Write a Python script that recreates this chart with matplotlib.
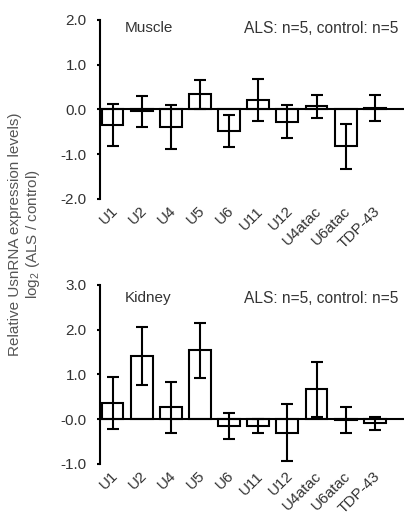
import matplotlib
matplotlib.use('Agg')
import matplotlib.pyplot as plt
import matplotlib.transforms as mtransforms
from matplotlib.ticker import FixedLocator, FixedFormatter

plt.rcParams['font.family'] = ['Liberation Sans', 'DejaVu Sans']
plt.rcParams['mathtext.fontset'] = 'custom'
plt.rcParams['mathtext.rm'] = 'Liberation Sans'
plt.rcParams['mathtext.it'] = 'Liberation Sans'

genes = ['U1', 'U2', 'U4', 'U5', 'U6', 'U11', 'U12', 'U4atac', 'U6atac', 'TDP-43']

muscle_mean = [-0.35, -0.04, -0.39, 0.34, -0.48, 0.22, -0.27, 0.07, -0.82, 0.04]
muscle_err = [0.47, 0.35, 0.50, 0.32, 0.36, 0.47, 0.36, 0.25, 0.50, 0.29]
muscle_ticks = [-2.0, -1.0, 0.0, 1.0, 2.0]
muscle_ticklabels = ['-2.0', '-1.0', '0.0', '1.0', '2.0']

kidney_mean = [0.36, 1.42, 0.27, 1.54, -0.15, -0.15, -0.30, 0.67, -0.01, -0.09]
kidney_err = [0.58, 0.65, 0.57, 0.61, 0.29, 0.15, 0.64, 0.62, 0.29, 0.15]
kidney_ticks = [-1.0, 0.0, 1.0, 2.0, 3.0]
kidney_ticklabels = ['-1.0', '-0.0', '1.0', '2.0', '3.0']

n_label = 'ALS: n=5, control: n=5'
TXT = '#333333'


def makeAx(fig, rect, mean, err, ticks, ticklabels, title, title_y):
    ax = fig.add_axes(rect)
    x = list(range(len(genes)))
    ax.bar(x, mean, width=0.75, color='white', edgecolor='black', linewidth=1.5, zorder=2)
    ax.errorbar(x, mean, yerr=err, fmt='none', ecolor='black', elinewidth=1.5,
                capsize=4, capthick=1.5, zorder=3)
    ax.axhline(0, color='black', lw=1.5, zorder=4)
    ax.set_xlim(-0.43, 10.0)
    ax.set_ylim(ticks[0], ticks[-1])
    for s in ['top', 'right', 'bottom']:
        ax.spines[s].set_visible(False)
    ax.spines['left'].set_linewidth(1.5)
    ax.yaxis.set_major_locator(FixedLocator(ticks))
    ax.yaxis.set_major_formatter(FixedFormatter(ticklabels))
    ax.tick_params(axis='y', length=2.5, width=1.5, pad=7, labelsize=11, labelcolor=TXT)
    ax.set_xticks(x)
    ax.set_xticklabels(genes, rotation=45, ha='right', va='center', rotation_mode='anchor')
    ax.tick_params(axis='x', length=0, pad=7, labelsize=11, labelcolor=TXT)
    # nudge the rotated labels a little to the right
    shift = mtransforms.ScaledTranslation(3 / 100, 0, fig.dpi_scale_trans)
    for lbl in ax.get_xticklabels():
        lbl.set_transform(lbl.get_transform() + shift)
    ax.text(0.082, title_y, title, transform=ax.transAxes, ha='left', va='center',
            fontsize=11, color=TXT)
    ax.text(0.98, title_y, n_label, transform=ax.transAxes, ha='right', va='center',
            fontsize=11.2, color=TXT)
    return ax


fig = plt.figure(figsize=(4.04, 5.25), dpi=100, facecolor='white')

makeAx(fig, [0.2475, 0.621, 0.7525, 0.341], muscle_mean, muscle_err,
       muscle_ticks, muscle_ticklabels, 'Muscle', 0.955)
makeAx(fig, [0.2475, 0.1162, 0.7525, 0.341], kidney_mean, kidney_err,
       kidney_ticks, kidney_ticklabels, 'Kidney', 0.927)

fig.text(0.037, 0.554, 'Relative UsnRNA expression levels)', rotation=90,
         ha='center', va='center', fontsize=11, color='#555555')
fig.text(0.082, 0.554, r'log$_{2}$ (ALS / control)', rotation=90,
         ha='center', va='center', fontsize=11, color='#555555')

fig.savefig('out.png', dpi=100)
